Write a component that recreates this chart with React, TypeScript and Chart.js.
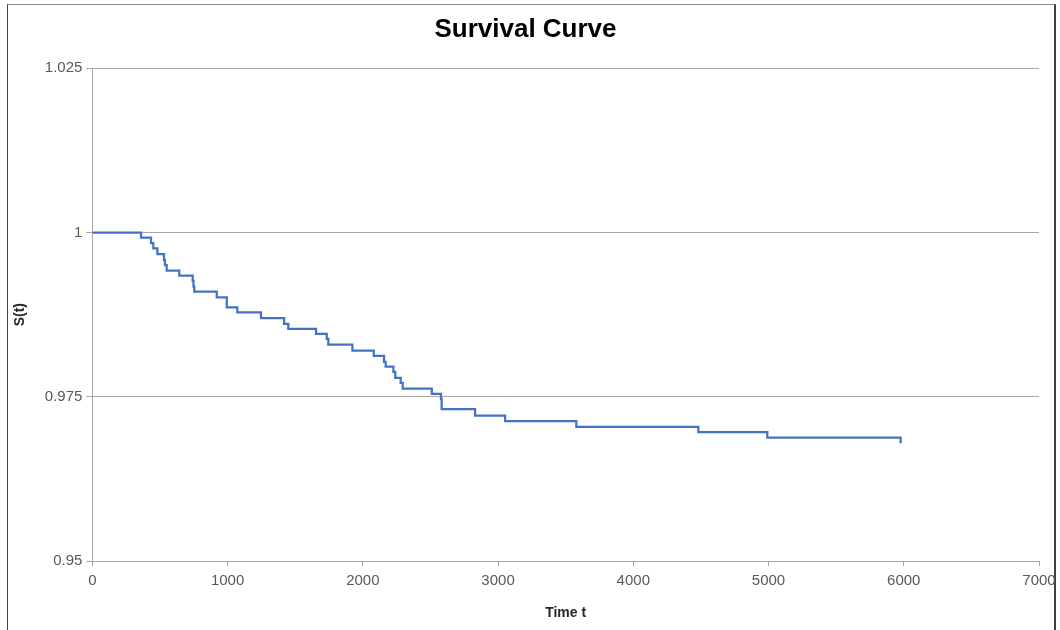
import React, { useEffect, useRef } from "react";
import { Chart, registerables } from "chart.js";

Chart.register(...registerables);

// Kaplan–Meier estimate: time at which each step occurs and S(t) after it
const stepTimes: number[] = [
  0, 360, 434, 451, 481, 530, 537, 550, 643, 742, 748, 754, 920, 994, 1072,
  1247, 1418, 1449, 1654, 1733, 1745, 1923, 2081, 2157, 2169, 2226, 2240,
  2280, 2295, 2510, 2578, 2583, 2830, 3052, 3579, 4481, 4991, 5977,
];
const survival: number[] = [
  1.0, 0.99921, 0.9984, 0.9976, 0.99673, 0.99582, 0.99506, 0.99422, 0.99343,
  0.99263, 0.99176, 0.991, 0.99015, 0.98863, 0.98787, 0.98696, 0.98609,
  0.98533, 0.98457, 0.98381, 0.98295, 0.98204, 0.98123, 0.98032, 0.9796,
  0.9788, 0.97789, 0.97713, 0.97626, 0.97546, 0.9747, 0.97313, 0.97214,
  0.97131, 0.97044, 0.96964, 0.96881, 0.96796,
];

const xTickValues: number[] = [0, 1000, 2000, 3000, 4000, 5000, 6000, 7000];
const yTickValues: number[] = [0.95, 0.975, 1, 1.025];
const yTickLabels: string[] = ["0.95", "0.975", "1", "1.025"];

const chartTitle = "Survival Curve";
const xTitle = "Time t";
const yTitle = "S(t)";

const FONT = "'Liberation Sans', Arial, sans-serif";

export default function App() {
  const canvasRef = useRef<HTMLCanvasElement | null>(null);

  useEffect(() => {
    const canvas = canvasRef.current;
    if (!canvas) return;
    const points = stepTimes.map((t, i) => ({ x: t, y: survival[i] }));

    const chart = new Chart(canvas, {
      type: "line",
      data: {
        datasets: [
          {
            label: "S(t)",
            data: points,
            borderColor: "#4472C4",
            borderWidth: 2.25,
            pointRadius: 0,
            stepped: "before",
            fill: false,
          },
        ],
      },
      options: {
        animation: false,
        responsive: false,
        maintainAspectRatio: false,
        layout: { padding: { left: 12, right: 21, top: 0, bottom: 8 } },
        plugins: {
          legend: { display: false },
          tooltip: { enabled: false },
          title: {
            display: true,
            text: chartTitle,
            color: "#000000",
            font: { family: FONT, size: 26, weight: "bold" },
            padding: { top: 14, bottom: 23 },
          },
        },
        scales: {
          x: {
            type: "linear",
            min: 0,
            max: 7000,
            afterBuildTicks: (axis: any) => {
              axis.ticks = xTickValues.map((v) => ({ value: v }));
            },
            // the last tick label may run into the right margin
            afterFit: (axis: any) => {
              axis.paddingRight = 0;
            },
            ticks: {
              color: "#595959",
              font: { family: FONT, size: 15 },
              padding: 6,
              maxRotation: 0,
              callback: (v: any) => String(v),
            },
            grid: {
              drawOnChartArea: false,
              drawTicks: true,
              tickLength: 5,
              color: "#a6a6a6",
            },
            border: { display: true, color: "#a6a6a6", width: 1 },
            title: {
              display: true,
              text: xTitle,
              color: "#262626",
              font: { family: FONT, size: 14, weight: "bold" },
              padding: { top: 9, bottom: 0 },
            },
          },
          y: {
            type: "linear",
            min: 0.95,
            max: 1.025,
            afterBuildTicks: (axis: any) => {
              axis.ticks = yTickValues.map((v) => ({ value: v }));
            },
            ticks: {
              color: "#595959",
              font: { family: FONT, size: 15 },
              padding: 4,
              callback: (v: any) => {
                const i = yTickValues.findIndex((t) => Math.abs(t - Number(v)) < 1e-9);
                return i >= 0 ? yTickLabels[i] : "";
              },
            },
            grid: {
              drawOnChartArea: true,
              drawTicks: true,
              tickLength: 6,
              color: "#a6a6a6",
            },
            border: { display: true, color: "#a6a6a6", width: 1 },
            title: {
              display: true,
              text: yTitle,
              color: "#262626",
              font: { family: FONT, size: 14, weight: "bold" },
              padding: { top: 0, bottom: 12 },
            },
          },
        },
      },
    });

    return () => chart.destroy();
  }, []);

  return (
    <div
      style={{
        position: "fixed",
        left: 0,
        top: 0,
        width: 1060,
        height: 630,
        overflow: "hidden",
        background: "#ffffff",
      }}
    >
      <div
        style={{
          position: "absolute",
          left: 7,
          top: 4,
          width: 1046,
          height: 660,
          borderTop: "1px solid #8c8c8c",
          borderLeft: "1px solid #404040",
          borderRight: "2px solid #404040",
          background: "#ffffff",
        }}
      />
      <canvas
        ref={canvasRef}
        width={1060}
        height={630}
        style={{ position: "absolute", left: 0, top: 0, width: 1060, height: 630 }}
      />
    </div>
  );
}
